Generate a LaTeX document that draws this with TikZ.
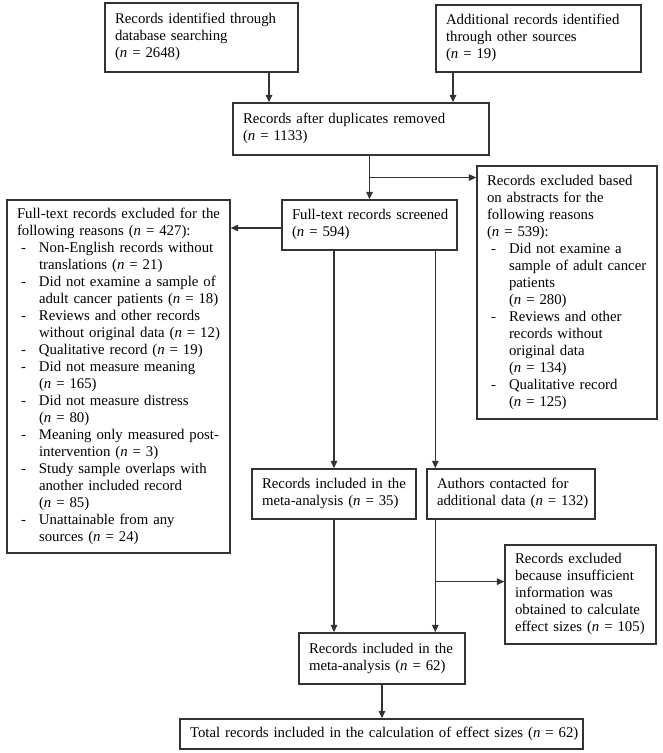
\documentclass[tikz,border=0pt]{standalone}
\usepackage{fontspec}
\setmainfont{Liberation Serif}
\usetikzlibrary{arrows.meta,calc}
\newcommand{\flowfont}{\fontsize{14.8}{17}\selectfont\parindent=0pt}
\newcommand{\rows}[1]{\begin{tabular}{@{}l@{}}#1\end{tabular}}
\newcommand{\itm}{\makebox[22pt][l]{\hspace{4pt}-}}
\newcommand{\cnt}{\hspace*{22pt}}

\begin{document}
\begin{tikzpicture}[x=1pt, y=-1pt,
    flowbox/.style={draw=black!80, line width=1.4pt, align=left, inner xsep=10pt, inner ysep=0pt, font=\flowfont},
    arr/.style={draw=black!80, line width=1.4pt, -{Triangle[length=7.5pt,width=6.5pt]}}]
    \useasboundingbox (0,0) rectangle (663,753);

    \node[flowbox, text width=173pt, minimum height=69pt] (dbsearch) at (201.5,37.5) {\rows{Records identified through\\ database searching\\ (\textit{n} = 2648)}};
    \node[flowbox, text width=185pt, minimum height=67pt] (othersrc) at (538.5,38.5) {\rows{Additional records identified\\ through other sources\\ (\textit{n} = 19)}};
    \node[flowbox, text width=236pt, minimum height=52pt] (dups) at (361,129) {\rows{Records after duplicates removed\\ (\textit{n} = 1133)}};
    \node[flowbox, text width=155pt, minimum height=50pt] (screened) at (369.5,225) {\rows{Full-text records screened\\ (\textit{n} = 594)}};
    \node[flowbox, text width=160pt, minimum height=253pt] (abstracts) at (567,292.5) {\rows{Records excluded based\\ on abstracts for the\\ following reasons\\ (\textit{n} = 539):\\
        \itm Did not examine a\\ \cnt sample of adult cancer\\ \cnt patients\\ \cnt (\textit{n} = 280)\\
        \itm Reviews and other\\ \cnt records without\\ \cnt original data\\ \cnt (\textit{n} = 134)\\
        \itm Qualitative record\\ \cnt (\textit{n} = 125)}};
    \node[flowbox, text width=203pt, minimum height=353pt] (fulltextexcl) at (118.5,376.5) {\rows{Full-text records excluded for the\\ following reasons (\textit{n} = 427):\\
        \itm Non-English records without\\ \cnt translations (\textit{n} = 21)\\
        \itm Did not examine a sample of\\ \cnt adult cancer patients (\textit{n} = 18)\\
        \itm Reviews and other records\\ \cnt without original data (\textit{n} = 12)\\
        \itm Qualitative record (\textit{n} = 19)\\
        \itm Did not measure meaning\\ \cnt (\textit{n} = 165)\\
        \itm Did not measure distress\\ \cnt (\textit{n} = 80)\\
        \itm Meaning only measured post-\\ \cnt intervention (\textit{n} = 3)\\
        \itm Study sample overlaps with\\ \cnt another included record\\ \cnt (\textit{n} = 85)\\
        \itm Unattainable from any\\ \cnt sources (\textit{n} = 24)}};
    \node[flowbox, text width=144pt, minimum height=50pt] (incl35) at (334,494) {\rows{Records included in the\\ meta-analysis (\textit{n} = 35)}};
    \node[flowbox, text width=148pt, minimum height=50pt] (authors) at (511,494) {\rows{Authors contacted for\\ additional data (\textit{n} = 132)}};
    \node[flowbox, text width=131pt, minimum height=99pt] (insuff) at (580.5,594.5) {\rows{Records excluded\\ because insufficient\\ information was\\ obtained to calculate\\ effect sizes (\textit{n} = 105)}};
    \node[flowbox, text width=146pt, minimum height=51pt] (incl62) at (382,658.5) {\rows{Records included in the\\ meta-analysis (\textit{n} = 62)}};
    \node[flowbox, text width=383pt, minimum height=30pt] (total) at (381.5,734) {\rows{Total records included in the calculation of effect sizes (\textit{n} = 62)}};

    \coordinate (d1) at ([xshift=67.5pt]dbsearch.south);
    \coordinate (o1) at ([xshift=-85.5pt]othersrc.south);
    \coordinate (b1) at ($(dups.south -| screened.north)!0.5!(screened.north)$);
    \coordinate (s1) at ([yshift=-3pt]screened.west);
    \coordinate (a1) at ([xshift=9pt]authors.north west);
    \coordinate (a2) at ([xshift=9pt]authors.south west);
    \coordinate (b2) at ($(a2)!0.55!(a2 |- incl62.north)$);

    \draw[arr] (d1) -- (d1 |- dups.north);
    \draw[arr] (o1) -- (o1 |- dups.north);
    \draw[arr] (dups.south -| screened.north) -- (screened.north);
    \draw[arr] (b1) -- (b1 -| abstracts.west);
    \draw[arr] (s1) -- (s1 -| fulltextexcl.east);
    \draw[arr] (screened.south -| incl35.north) -- (incl35.north);
    \draw[arr] (screened.south -| a1) -- (a1);
    \draw[arr] (incl35.south) -- (incl35.south |- incl62.north);
    \draw[arr] (a2) -- (a2 |- incl62.north);
    \draw[arr] (b2) -- (b2 -| insuff.west);
    \draw[arr] (incl62.south) -- (incl62.south |- total.north);
\end{tikzpicture}
\end{document}
